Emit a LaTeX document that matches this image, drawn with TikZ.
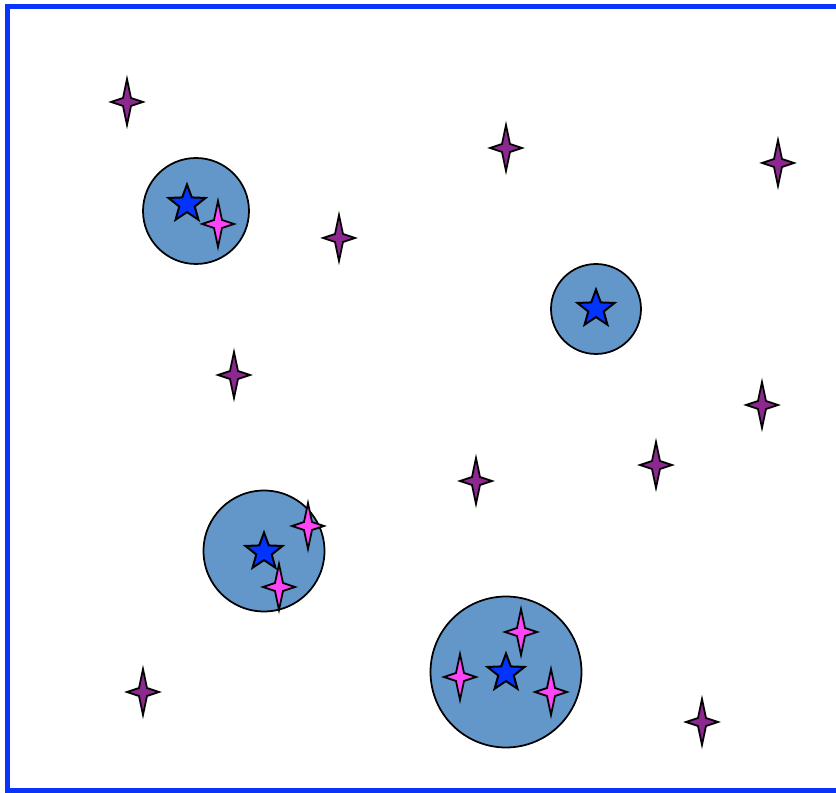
\documentclass[tikz,border=0pt]{standalone}
\usepackage{xcolor}
\definecolor{frameBlue}{RGB}{8, 52, 252}
\definecolor{discBlue}{RGB}{99, 151, 201}
\definecolor{starBlue}{RGB}{3, 51, 255}
\definecolor{sparkPink}{RGB}{255, 68, 250}
\definecolor{sparkPurple}{RGB}{142, 40, 145}
\usepackage{tikz}
\usetikzlibrary{shapes.geometric}

\begin{document}
\begin{tikzpicture}[x=0.02cm, y=-0.02cm,
  frame/.style={draw=frameBlue, line width=0.1cm},
  disc/.style={circle, draw=black, fill=discBlue, line width=0.035cm, inner sep=0pt},
  bigstar/.style={star, star points=5, star point ratio=2.4, draw=black, fill=starBlue,
                  line width=0.04cm, minimum size=0.78cm, inner sep=0pt},
  pink/.style={fill=sparkPink, draw=black, line width=0.035cm},
  plum/.style={fill=sparkPurple, draw=black, line width=0.035cm},
  sparkle/.pic={\draw[pic actions] (0,-23) -- (4,-4) -- (16,0) -- (4,4)
                -- (0,23) -- (-4,4) -- (-16,0) -- (-4,-4) -- cycle;}]

  \useasboundingbox (0,0) rectangle (836,793);

  % ---- Frame ----
  \draw[frame] (7.5,7) rectangle (850,791);

  % ---- Discs ----
  \node[disc, minimum size=2.12cm] (discA) at (196,211) {};
  \node[disc, minimum size=1.80cm] (discB) at (596,309) {};
  \node[disc, minimum size=2.42cm] (discC) at (264,551) {};
  \node[disc, minimum size=3.02cm] (discD) at (506,672) {};

  % ---- Blue Stars ----
  \node[bigstar] (starA) at (187,204) {};
  \node[bigstar] (starB) at (596,309) {};
  \node[bigstar] (starC) at (264,552) {};
  \node[bigstar] (starD) at (506,673) {};

  % ---- Pink Sparkles (inside discs) ----
  \pic[pink] (pinkA)  at (218,224) {sparkle};
  \pic[pink] (pinkC1) at (308,526) {sparkle};
  \pic[pink] (pinkC2) at (279,587) {sparkle};
  \pic[pink] (pinkD1) at (521,632) {sparkle};
  \pic[pink] (pinkD2) at (460,677) {sparkle};
  \pic[pink] (pinkD3) at (551,692) {sparkle};

  % ---- Purple Sparkles (outside) ----
  \pic[plum] (plum1)  at (127,102) {sparkle};
  \pic[plum] (plum2)  at (506,148) {sparkle};
  \pic[plum] (plum3)  at (778,163) {sparkle};
  \pic[plum] (plum4)  at (339,238) {sparkle};
  \pic[plum] (plum5)  at (234,375) {sparkle};
  \pic[plum] (plum6)  at (762,405) {sparkle};
  \pic[plum] (plum7)  at (656,465) {sparkle};
  \pic[plum] (plum8)  at (476,481) {sparkle};
  \pic[plum] (plum9)  at (143,692) {sparkle};
  \pic[plum] (plum10) at (702,722) {sparkle};

\end{tikzpicture}
\end{document}
